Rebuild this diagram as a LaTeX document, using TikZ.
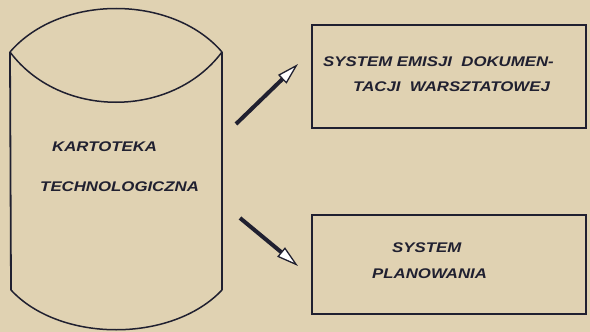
\documentclass[tikz,border=0pt]{standalone}
\usepackage{fontspec}
\setmainfont{Liberation Sans}
\usetikzlibrary{arrows.meta}

\definecolor{paper}{RGB}{224,210,178}
\definecolor{ink}{RGB}{32,32,48}

\tikzset{
    lettering/.style={font=\fontsize{14}{16}\selectfont\bfseries\itshape, text=ink, inner sep=0pt,
        xscale=1.2, transform shape},
    sysbox/.style={draw=ink, line width=1.6pt, minimum width=274pt, minimum height=103pt, inner sep=0pt},
    flowarrow/.style={draw=ink, line width=4pt,
        -{Triangle[length=22pt, width=12pt, line width=1.3pt, fill=white]}}
}

\begin{document}
\begin{tikzpicture}[x=1pt, y=-1pt]
    \useasboundingbox (0,0) rectangle (590,332);
    \fill[paper] (0,0) rectangle (590,332);
    % cylinder
    \coordinate (TL) at (10,52);
    \coordinate (TR) at (222,52);
    \coordinate (BL) at (11,290);
    \coordinate (BR) at (222,290);
    \draw[ink, line width=1.5pt] (TL) .. controls (60,-6) and (172,-6) .. (TR);
    \draw[ink, line width=1.5pt] (TL) .. controls (60,119) and (172,119) .. (TR);
    \draw[ink, line width=1.8pt] (TL) -- (BL);
    \draw[ink, line width=1.8pt] (TR) -- (BR);
    \draw[ink, line width=1.5pt] (BL) .. controls (60,343) and (172,343) .. (BR);
    \node[lettering, anchor=west] (kart) at (52,147) {KARTOTEKA};
    \node[lettering, anchor=west] (techn) at (40,187) {TECHNOLOGICZNA};
    % boxes
    \node[sysbox] (emisja) at (449,76.5) {};
    \node[sysbox, minimum height=99pt] (plan) at (449,264.5) {};
    \node[lettering, anchor=west] (em1) at (323,62) {SYSTEM EMISJI\ \ DOKUMEN-};
    \node[lettering, anchor=west] (em2) at (353,87) {TACJI\ \ WARSZTATOWEJ};
    \node[lettering, anchor=west] (pl1) at (392,248) {SYSTEM};
    \node[lettering, anchor=west] (pl2) at (372,274) {PLANOWANIA};
    % arrows
    \coordinate (up0) at (236,124);
    \coordinate (up1) at (298,64);
    \coordinate (dn0) at (240,218);
    \coordinate (dn1) at (298,266);
    \draw[flowarrow] (up0) -- (up1);
    \draw[flowarrow] (dn0) -- (dn1);
\end{tikzpicture}
\end{document}
